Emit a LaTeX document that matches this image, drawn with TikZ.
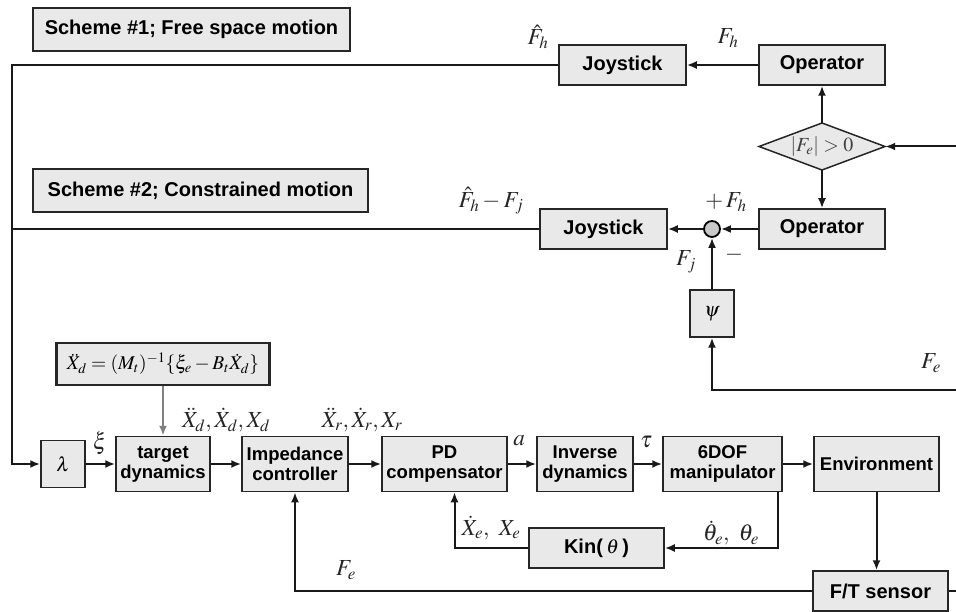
\documentclass[tikz,border=0pt]{standalone}
\usepackage{mathptmx}
\usepackage[no-math]{fontspec}
\newfontfamily\boxfont{Liberation Sans}
\usepackage{tikz}
\usetikzlibrary{positioning,arrows.meta,calc}

\definecolor{boxgray}{RGB}{233,233,233}
\definecolor{sumgray}{RGB}{200,200,200}

\tikzset{
  blk/.style={draw=black!85, line width=1.5pt, fill=boxgray, inner sep=0pt, align=center,
              font=\boxfont\bfseries\fontsize{18.5}{20}\selectfont},
  big/.style={font=\boxfont\bfseries\fontsize{20}{22}\selectfont},
  lbl/.style={inner sep=0pt, text=black!85, font=\fontsize{23}{25}\selectfont},
  wire/.style={line width=2pt, draw=black!90},
  sig/.style={wire, -{Latex[length=10pt,width=8pt]}},
}

\begin{document}
\begin{tikzpicture}[x=1pt, y=-1pt]
  \useasboundingbox (0,0) rectangle (956,612);

  % Scheme titles
  \node[blk, big, minimum width=317, minimum height=43] (sch1) at (191.5,29.5) {Scheme \#1; Free space motion};
  \node[blk, big, minimum width=335, minimum height=43] (sch2) at (200.5,190.5) {Scheme \#2; Constrained motion};

  % Scheme 1
  \node[blk, big, minimum width=126, minimum height=40] (op1) at (822,65) {Operator};
  \node[blk, big, minimum width=127, minimum height=40] (joy1) at (622.5,65) {Joystick};

  % Switch
  \coordinate (c) at (822,146.5);
  \draw[fill=boxgray, line width=1.5pt, draw=black!85] ($(c)+(-63,0)$) -- ($(c)+(0,-23.5)$) -- ($(c)+(63,0)$) -- ($(c)+(0,23.5)$) -- cycle;
  \node[minimum width=126, minimum height=47, inner sep=0pt, text=black!75, font=\fontsize{20}{22}\selectfont] (cond) at (c) {$|F_e|>0$};

  % Scheme 2
  \node[blk, big, minimum width=126, minimum height=40] (op2) at (822,229) {Operator};
  \node[circle, draw, fill=sumgray, line width=1.8pt, minimum size=16, inner sep=0pt] (sum) at (712,229) {};
  \node[blk, big, minimum width=127, minimum height=40] (joy2) at (603.5,229) {Joystick};
  \node[blk, big, minimum width=44, minimum height=47] (psi) at (712,313.5) {$\psi$};

  % Main loop
  \node[blk, line width=2.2pt, minimum width=213, minimum height=42, font=\fontsize{19.5}{21}\selectfont] (eqn) at (163,364)
    {$\ddot{X}_d=(M_t)^{-1}\{\xi_e-B_t\dot{X}_d\}$};
  \node[blk, big, minimum width=44, minimum height=47] (lam) at (63,464) {$\lambda$};
  \node[blk, minimum width=94, minimum height=55] (target) at (163,464) {target\\dynamics};
  \node[blk, minimum width=106, minimum height=55] (imp) at (295,464) {Impedance\\controller};
  \node[blk, minimum width=125, minimum height=55] (pd) at (444.5,464) {PD\\compensator};
  \node[blk, minimum width=96, minimum height=55] (inv) at (585,464) {Inverse\\dynamics};
  \node[blk, minimum width=119, minimum height=55] (manip) at (722.5,464) {6DOF\\manipulator};
  \node[blk, minimum width=125, minimum height=55] (env) at (876.5,464) {Environment};
  \node[blk, big, minimum width=135, minimum height=40] (kin) at (596.5,548) {Kin(\,$\theta$\,)};
  \node[blk, big, minimum width=135, minimum height=40] (ft) at (880.5,591) {F/T sensor};

  % Free ends
  \coordinate (bl) at (12,464);
  \coordinate (in1) at (956,146.5);
  \coordinate (in2) at (956,390);
  \coordinate (out) at (956,591);

  % Connectors
  \draw[sig] (op1.west) -- (joy1.east);
  \draw[sig] (cond.north) -- (op1.south);
  \draw[sig] (cond.south) -- (op2.north);
  \draw[sig] (in1) -- (cond.east);
  \draw[sig] (joy1.west) -| (bl) -- (lam.west);
  \draw[wire] (joy2.west) -- (joy2.west -| bl);
  \draw[sig] (op2.west) -- (sum.east);
  \draw[sig] (sum.west) -- (joy2.east);
  \draw[sig] (psi.north) -- (sum.south);
  \draw[sig] (in2) -| (psi.south);
  \draw[sig, draw=gray] (eqn.south) -- (target.north);
  \foreach \a/\b in {lam/target, target/imp, imp/pd, pd/inv, inv/manip, manip/env}
    \draw[sig] (\a.east) -- (\b.west);
  \draw[sig] (env.south) -- (env.south |- ft.north);
  \draw[wire] (ft.east) -- (out);
  \draw[sig] (ft.west) -| (imp.south);
  \draw[sig] ([xshift=-4.5pt]manip.south east) |- (kin.east);
  \draw[sig] (kin.west) -| ([xshift=10pt]pd.south);

  % Signal labels
  \node[lbl] (fh1) at (538,37) {$\hat{F}_h$};
  \node[lbl] (fh2) at (728,38) {$F_h$};
  \node[lbl] (fhj) at (491,201) {$\hat{F}_h-F_j$};
  \node[lbl] (plus) at (726,202) {$+\,F_h$};
  \node[lbl] (minus) at (734,255) {$-$};
  \node[lbl] (fj) at (686,262) {$F_j$};
  \node[lbl] (fe1) at (931,363) {$F_e$};
  \node[lbl] (xi) at (100,443) {$\xi$};
  \node[lbl] (xd) at (226,420) {$\ddot{X}_d,\dot{X}_d,X_d$};
  \node[lbl] (xr) at (362,420) {$\ddot{X}_r,\dot{X}_r,X_r$};
  \node[lbl] (acc) at (519,441) {$a$};
  \node[lbl] (tau) at (646,442) {$\tau$};
  \node[lbl] (th) at (731,533) {$\dot{\theta}_e,\ \theta_e$};
  \node[lbl] (xe) at (491,528) {$\dot{X}_e,\ X_e$};
  \node[lbl] (fe2) at (346,570) {$F_e$};

\end{tikzpicture}
\end{document}
